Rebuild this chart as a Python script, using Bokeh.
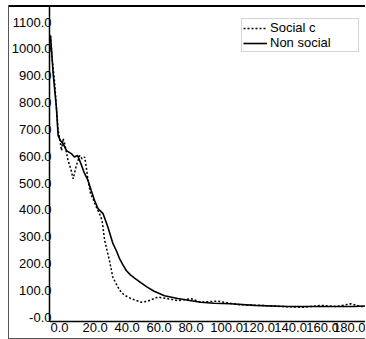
from bokeh.plotting import figure
from bokeh.models import FixedTicker, Range1d, Legend, LegendItem
from bokeh.embed import file_html
from bokeh.resources import INLINE

# ---- data ----
x_social = [0, 1.2, 2.7, 3.7, 4.8, 5.8, 6.9, 7.9, 8.9, 11, 12.7, 14.2, 16.2, 18.3,
            19.8, 21.4, 22.4, 23.5, 25.1, 26.6, 28.7, 30.7, 32.3, 33.9, 36.9, 39,
            42.2, 44.3, 47, 50.5, 56.7, 61, 67, 73.4, 79.6, 88, 94, 104.5, 117,
            131.5, 144, 158.5, 169, 179, 187.7, 194, 197.6]
y_social = [1050, 957, 870, 783, 696, 665, 621, 666, 647, 584, 553, 516, 566, 603,
            590, 597, 559, 510, 460, 442, 410, 385, 360, 286, 211, 149,
            112, 92, 80, 69, 56, 60, 75, 69, 62, 69, 56, 60, 47,
            44, 40, 37, 44, 40, 50, 40, 40]

x_nonsocial = [0, 1.7, 3.7, 4.8, 6.2, 7.9, 10, 13, 15, 17, 19, 21, 23.5, 25.5, 27.6,
               29.7, 32.9, 35.9, 39.1, 41.5, 43.2, 45.5, 47.4, 50, 52.6, 56.7, 60.5,
               64.8, 71.3, 79.6, 86, 94, 102.3, 112.8, 127.4, 148, 169, 189.6, 197.6]
y_nonsocial = [1050, 907, 783, 677, 659, 647, 621, 610, 597, 603, 573, 540, 510, 472,
               435, 405, 386, 336, 274, 244, 218, 193, 174, 158, 146, 128, 112,
               97, 80, 70, 63, 56, 52, 50, 44, 40, 40, 40, 42]

series_names = ["Social c", "Non social"]

x_ticks = [0, 20, 40, 60, 80, 100, 120, 140, 160, 180]
x_tick_labels = ["0.0", "20.0", "40.0", "60.0", "80.0", "100.0", "120.0", "140.0",
                 "160.0", "180.0"]
y_ticks = [0, 100, 200, 300, 400, 500, 600, 700, 800, 900, 1000, 1100]
y_tick_labels = ["-0.0", "100.0", "200.0", "300.0", "400.0", "500.0", "600.0",
                 "700.0", "800.0", "900.0", "1000.0", "1100.0"]

FONT = "Liberation Sans"

p = figure(width=357, height=334, output_backend="svg", toolbar_location=None,
           x_range=Range1d(-0.6, 197), y_range=Range1d(-16, 1162),
           min_border_left=40, min_border_right=0, min_border_top=0,
           min_border_bottom=0)
p.margin = (5, 0, 0, 8)
p.border_fill_color = None
p.background_fill_color = None
p.outline_line_color = None
p.grid.visible = False
p.styles = {"box-shadow": "inset 1px 0 0 #555, inset 0 2px 0 #000, inset 0 -1px 0 #555"}

r1 = p.line(x_social, y_social, line_color="black", line_width=1.5, line_dash="2 2")
r2 = p.line(x_nonsocial, y_nonsocial, line_color="black", line_width=1.6)

for ax in (p.xaxis[0], p.yaxis[0]):
    ax.axis_line_color = "black"
    ax.axis_line_width = 1.5
    ax.major_tick_out = 0
    ax.major_tick_in = 0
    ax.minor_tick_out = 0
    ax.minor_tick_in = 0
    ax.major_label_text_font = FONT
    ax.major_label_text_font_size = "13px"
    ax.major_label_text_color = "black"

p.xaxis[0].ticker = FixedTicker(ticks=x_ticks)
p.xaxis[0].major_label_overrides = dict(zip(x_ticks, x_tick_labels))
p.xaxis[0].major_label_orientation = -0.0001
p.xaxis[0].major_label_standoff = 6
p.yaxis[0].ticker = FixedTicker(ticks=y_ticks)
p.yaxis[0].major_label_overrides = dict(zip(y_ticks, y_tick_labels))
p.yaxis[0].major_label_standoff = -2

legend = Legend(items=[LegendItem(label=series_names[0], renderers=[r1]),
                       LegendItem(label=series_names[1], renderers=[r2])],
                location=(192, 269))
legend.label_text_font = FONT
legend.label_text_font_size = "13px"
legend.label_text_color = "black"
legend.label_text_line_height = 1.0
legend.label_height = 12
legend.glyph_height = 12
legend.glyph_width = 24
legend.label_width = 87
legend.label_standoff = 3
legend.spacing = 0
legend.padding = 1
legend.margin = 0
legend.border_line_color = "#aaaaaa"
legend.border_line_width = 1
legend.background_fill_color = "white"
legend.background_fill_alpha = 1
p.add_layout(legend)

open("out.html", "w").write(file_html(p, INLINE))
